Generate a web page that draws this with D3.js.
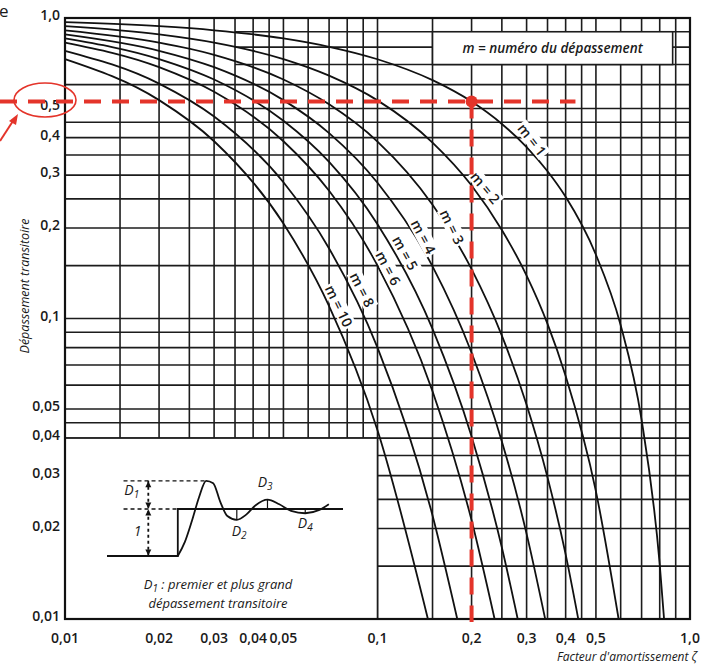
<!DOCTYPE html>
<html>
<head>
<meta charset="utf-8">
<script src="https://cdn.jsdelivr.net/npm/d3@7"></script>
<style>
  body { margin: 0; background: #fff; }
  svg { display: block; }
  text { font-family: "Open Sans", sans-serif; fill: #1a1a1a; }
</style>
</head>
<body>
<div id="chart"></div>
<script>
// damping factor readings (x) and overshoot readings (y) for each curve
var zeta_pts = [0.01, 0.02, 0.03, 0.05, 0.07, 0.1, 0.15, 0.2, 0.25, 0.3, 0.35, 0.4, 0.5, 0.6, 0.7, 0.8];
var d_m1  = [0.969, 0.939, 0.910, 0.855, 0.802, 0.729, 0.621, 0.527, 0.444, 0.372, 0.309, 0.254, 0.163, 0.095, 0.046, 0.0152];
var d_m2  = [0.939, 0.882, 0.828, 0.730, 0.643, 0.532, 0.385, 0.277, 0.197, 0.139, 0.096, 0.0644, 0.0266];
var d_m3  = [0.910, 0.828, 0.754, 0.624, 0.516, 0.388, 0.239, 0.146, 0.0877, 0.0516, 0.0296, 0.0164];
var d_m4  = [0.882, 0.778, 0.686, 0.533, 0.414, 0.283, 0.149, 0.0769, 0.039, 0.0192];
var d_m5  = [0.855, 0.730, 0.624, 0.455, 0.332, 0.206, 0.0923, 0.0405, 0.0173];
var d_m6  = [0.828, 0.686, 0.568, 0.389, 0.266, 0.150, 0.0573, 0.0213];
var d_m8  = [0.778, 0.605, 0.470, 0.284, 0.171, 0.080, 0.0221];
var d_m10 = [0.730, 0.533, 0.389, 0.207, 0.110, 0.0425];
// where each curve reaches the bottom (0,01)
var zeta_end = [0.826, 0.591, 0.439, 0.344, 0.281, 0.237, 0.180, 0.145];
var m_values = [1, 2, 3, 4, 5, 6, 8, 10];

// label spots along the curves (zeta, D, angle)
var label_zeta  = [0.312, 0.221, 0.173, 0.140, 0.1225, 0.108, 0.0892, 0.0752];
var label_d     = [0.393, 0.272, 0.2016, 0.187, 0.165, 0.147, 0.1245, 0.110];
var label_angle = [52, 50, 64, 62, 61, 62, 63, 64];

var x_ticks = [0.01, 0.02, 0.03, 0.04, 0.05, 0.1, 0.2, 0.3, 0.4, 0.5, 1];
var x_tick_labels = ['0,01', '0,02', '0,03', '0,04', '0,05', '0,1', '0,2', '0,3', '0,4', '0,5', '1,0'];
var y_ticks = [1, 0.5, 0.4, 0.3, 0.2, 0.1, 0.05, 0.04, 0.03, 0.02, 0.01];
var y_tick_labels = ['1,0', '0,5', '0,4', '0,3', '0,2', '0,1', '0,05', '0,04', '0,03', '0,02', '0,01'];

var x_grid = [0.01, 0.015, 0.02, 0.025, 0.03, 0.035, 0.04, 0.045, 0.05, 0.06, 0.07, 0.08, 0.09, 0.1,
              0.15, 0.2, 0.25, 0.3, 0.35, 0.4, 0.45, 0.5, 0.6, 0.7, 0.8, 0.9, 1];
var y_grid = [1, 0.9, 0.8, 0.7, 0.6, 0.5, 0.45, 0.4, 0.35, 0.3, 0.25, 0.2, 0.15, 0.1, 0.09, 0.08, 0.07,
              0.06, 0.05, 0.045, 0.04, 0.035, 0.03, 0.025, 0.02, 0.015, 0.01];
// upper rows that only start further right (curves crowd the top left)
var y_grid_short = [0.9, 0.8, 0.7, 0.5];

// marked point : zeta = 0,2 -> D1 = 0,527
var mark_zeta = 0.2;
var mark_d = 0.527;

// inset : step response (time, amplitude)
var resp_t = [3, 3.3, 3.6, 3.9, 4.2, 4.5, 4.8, 5.1, 5.5, 5.9, 6.3, 6.8, 7.3, 7.8, 8.4, 9.0, 9.4];
var resp_a = [0, 0.3, 0.75, 1.25, 1.6, 1.55, 1.15, 0.85, 0.77, 0.88, 1.08, 1.2, 1.1, 0.96, 0.91, 0.98, 1.1];
var step_t = [0, 3, 3, 10];
var step_a = [0, 0, 1, 1];

var W = 705, H = 672;
var red = '#e4342a';

var svg = d3.select('#chart').append('svg').attr('width', W).attr('height', H);

var x_scale = d3.scaleLog().domain([0.01, 1]).range([65, 690]);
var y_scale = d3.scaleLog().domain([0.01, 1]).range([619, 18]);

// grid
var grid = svg.append('g').attr('stroke', '#1c1c1c').attr('stroke-width', 1.6);
grid.selectAll('line.v').data(x_grid).enter().append('line')
    .attr('x1', function(d){return x_scale(d)}).attr('x2', function(d){return x_scale(d)})
    .attr('y1', y_scale(1))
    .attr('y2', function(d){return d < 0.1 ? y_scale(0.04) : y_scale(0.01)});
grid.selectAll('line.h').data(y_grid).enter().append('line')
    .attr('y1', function(d){return y_scale(d)}).attr('y2', function(d){return y_scale(d)})
    .attr('x1', function(d){
        if (d < 0.04) return x_scale(0.1);
        if (y_grid_short.indexOf(d) >= 0) return x_scale(0.035);
        return x_scale(0.01);
    })
    .attr('x2', x_scale(1));
// small ticks on the left border inside the inset
grid.selectAll('line.t').data([0.03, 0.02]).enter().append('line')
    .attr('x1', x_scale(0.01)).attr('x2', x_scale(0.01) + 7)
    .attr('y1', function(d){return y_scale(d)}).attr('y2', function(d){return y_scale(d)});

// legend box
svg.append('rect')
    .attr('x', x_scale(0.15)).attr('y', y_scale(0.9))
    .attr('width', x_scale(0.88) - x_scale(0.15)).attr('height', y_scale(0.7) - y_scale(0.9))
    .attr('fill', '#fff').attr('stroke', '#1c1c1c').attr('stroke-width', 1.6);
svg.append('text')
    .attr('x', (x_scale(0.15) + x_scale(0.88)) / 2).attr('y', (y_scale(0.9) + y_scale(0.7)) / 2 + 5)
    .attr('text-anchor', 'middle').style('font-size', '13.5px').style('font-style', 'italic')
    .style('font-weight', '600')
    .text('m = numéro du dépassement');

// curves
var curves = [d_m1, d_m2, d_m3, d_m4, d_m5, d_m6, d_m8, d_m10].map(function(arr, i){
    var pts = arr.map(function(v, j){return [zeta_pts[j], v]});
    pts.push([zeta_end[i], 0.01]);
    return pts;
});
var line = d3.line()
    .x(function(d){return x_scale(d[0])})
    .y(function(d){return y_scale(d[1])})
    .curve(d3.curveMonotoneX);
svg.append('g').selectAll('path').data(curves).enter().append('path')
    .attr('d', line).attr('fill', 'none').attr('stroke', '#111').attr('stroke-width', 1.8);

// curve labels
var labels = svg.append('g').selectAll('g').data(m_values).enter().append('g')
    .attr('transform', function(d, i){
        return 'translate(' + x_scale(label_zeta[i]) + ',' + y_scale(label_d[i]) + ') rotate(' + label_angle[i] + ')';
    });
labels.append('rect')
    .attr('x', function(d){return d > 9 ? -24 : -20}).attr('y', -8)
    .attr('width', function(d){return d > 9 ? 48 : 40}).attr('height', 15)
    .attr('fill', '#fff');
labels.append('text')
    .attr('text-anchor', 'middle').attr('y', 5)
    .style('font-size', '14px').style('font-weight', '600')
    .text(function(d){return 'm = ' + d});

// inset
var inset = svg.append('g');
inset.append('rect')
    .attr('x', x_scale(0.01)).attr('y', y_scale(0.04))
    .attr('width', x_scale(0.1) - x_scale(0.01)).attr('height', y_scale(0.01) - y_scale(0.04))
    .attr('fill', '#fff').attr('stroke', '#1c1c1c').attr('stroke-width', 1.6);
var t_scale = d3.scaleLinear().domain([0, 10]).range([107, 343]);
var a_scale = d3.scaleLinear().domain([0, 1]).range([556, 509]);
var inset_line = d3.line()
    .x(function(d){return t_scale(d[0])}).y(function(d){return a_scale(d[1])});
inset.append('path')
    .attr('d', inset_line(step_t.map(function(t, i){return [t, step_a[i]]})))
    .attr('fill', 'none').attr('stroke', '#111').attr('stroke-width', 1.8);
inset.append('path')
    .attr('d', inset_line.curve(d3.curveMonotoneX)(resp_t.map(function(t, i){return [t, resp_a[i]]})))
    .attr('fill', 'none').attr('stroke', '#111').attr('stroke-width', 1.8);
var d1 = d3.max(resp_a);
// dashed guides
inset.append('line').attr('x1', t_scale(0.7)).attr('x2', t_scale(4.2))
    .attr('y1', a_scale(d1)).attr('y2', a_scale(d1))
    .attr('stroke', '#111').attr('stroke-width', 1.3).attr('stroke-dasharray', '4,3');
inset.append('line').attr('x1', t_scale(0.7)).attr('x2', t_scale(3))
    .attr('y1', a_scale(1)).attr('y2', a_scale(1))
    .attr('stroke', '#111').attr('stroke-width', 1.3).attr('stroke-dasharray', '4,3');
inset.append('line').attr('x1', t_scale(1.75)).attr('x2', t_scale(1.75))
    .attr('y1', a_scale(d1)).attr('y2', a_scale(0))
    .attr('stroke', '#111').attr('stroke-width', 1.8).attr('stroke-dasharray', '3,3');
// arrow heads
var heads = [[d1, -1], [1, 1], [1, -1], [0, 1]];
inset.selectAll('path.head').data(heads).enter().append('path')
    .attr('d', function(d){
        var cx = t_scale(1.75), cy = a_scale(d[0]) - d[1] * 0.5;
        return 'M' + cx + ',' + cy + 'l-3,' + (-d[1] * 6) + 'l6,0z';
    })
    .attr('fill', '#111');
// small ticks at D2, D3, D4
var dn_t = [5.5, 6.8, 8.4];
var dn_a = [0.77, 1.2, 0.91];
inset.selectAll('line.dn').data(dn_t).enter().append('line')
    .attr('x1', function(d){return t_scale(d)}).attr('x2', function(d){return t_scale(d)})
    .attr('y1', a_scale(1)).attr('y2', function(d, i){return a_scale(dn_a[i])})
    .attr('stroke', '#111').attr('stroke-width', 1.2);

var inset_labels = [
    {t: 1.05, a: 1.3, n: '1', big: 'D'},
    {t: 1.3, a: 0.42, n: '', big: '1'},
    {t: 5.6, a: 0.43, n: '2', big: 'D'},
    {t: 6.7, a: 1.46, n: '3', big: 'D'},
    {t: 8.4, a: 0.6, n: '4', big: 'D'}
];
inset.selectAll('text.lab').data(inset_labels).enter().append('text')
    .attr('x', function(d){return t_scale(d.t)}).attr('y', function(d){return a_scale(d.a)})
    .attr('text-anchor', 'middle').style('font-size', '14px').style('font-style', 'italic')
    .each(function(d){
        var t = d3.select(this);
        t.append('tspan').text(d.big);
        if (d.n) t.append('tspan').attr('dy', 3).style('font-size', '10px').text(d.n);
    });
var cap = inset.append('text').attr('x', 218).attr('y', 589)
    .attr('text-anchor', 'middle').style('font-size', '13px').style('font-style', 'italic');
cap.append('tspan').text('D');
cap.append('tspan').attr('dy', 3).style('font-size', '10px').text('1');
cap.append('tspan').attr('dy', -3).text(' : premier et plus grand');
inset.append('text').attr('x', 218).attr('y', 608)
    .attr('text-anchor', 'middle').style('font-size', '13px').style('font-style', 'italic')
    .text('dépassement transitoire');

// frame
svg.append('rect')
    .attr('x', x_scale(0.01)).attr('y', y_scale(1))
    .attr('width', x_scale(1) - x_scale(0.01)).attr('height', y_scale(0.01) - y_scale(1))
    .attr('fill', 'none').attr('stroke', '#111').attr('stroke-width', 2.2);

// tick labels
svg.append('g').selectAll('text').data(x_ticks).enter().append('text')
    .attr('x', function(d){return x_scale(d)}).attr('y', 643)
    .attr('text-anchor', 'middle').style('font-size', '14px').style('font-weight', '600')
    .text(function(d, i){return x_tick_labels[i]});
svg.append('g').selectAll('text').data(y_ticks).enter().append('text')
    .attr('x', 60).attr('y', function(d){return y_scale(d) + 2})
    .attr('text-anchor', 'end').style('font-size', '14px').style('font-weight', '600')
    .text(function(d, i){return y_tick_labels[i]});

// axis titles
svg.append('text')
    .attr('transform', 'translate(29,286) rotate(-90)')
    .attr('text-anchor', 'middle').style('font-size', '12.5px').style('font-style', 'italic')
    .text('Dépassement transitoire');
svg.append('text')
    .attr('x', 627).attr('y', 661)
    .attr('text-anchor', 'middle').style('font-size', '12px').style('font-style', 'italic')
    .text("Facteur d'amortissement ζ");

// red annotation
var ann = svg.append('g');
ann.append('line')
    .attr('x1', 0).attr('x2', x_scale(0.43))
    .attr('y1', y_scale(mark_d)).attr('y2', y_scale(mark_d))
    .attr('stroke', red).attr('stroke-width', 4).attr('stroke-dasharray', '17,11');
ann.append('line')
    .attr('x1', x_scale(mark_zeta)).attr('x2', x_scale(mark_zeta))
    .attr('y1', y_scale(mark_d)).attr('y2', y_scale(0.01) + 3)
    .attr('stroke', red).attr('stroke-width', 4).attr('stroke-dasharray', '17,11');
ann.append('circle')
    .attr('cx', x_scale(mark_zeta)).attr('cy', y_scale(mark_d)).attr('r', 6)
    .attr('fill', red);
ann.append('ellipse')
    .attr('cx', 45).attr('cy', 100).attr('rx', 31).attr('ry', 17)
    .attr('fill', 'none').attr('stroke', red).attr('stroke-width', 1.6);
ann.append('line')
    .attr('x1', 0).attr('y1', 141).attr('x2', 13).attr('y2', 121)
    .attr('stroke', red).attr('stroke-width', 2);
ann.append('path')
    .attr('d', 'M18,114 L9,121 L16,125 Z').attr('fill', red);

// cut-off text fragment top left
svg.append('text').attr('x', -1).attr('y', 17).style('font-size', '17px').text('e');
</script>
</body>
</html>
